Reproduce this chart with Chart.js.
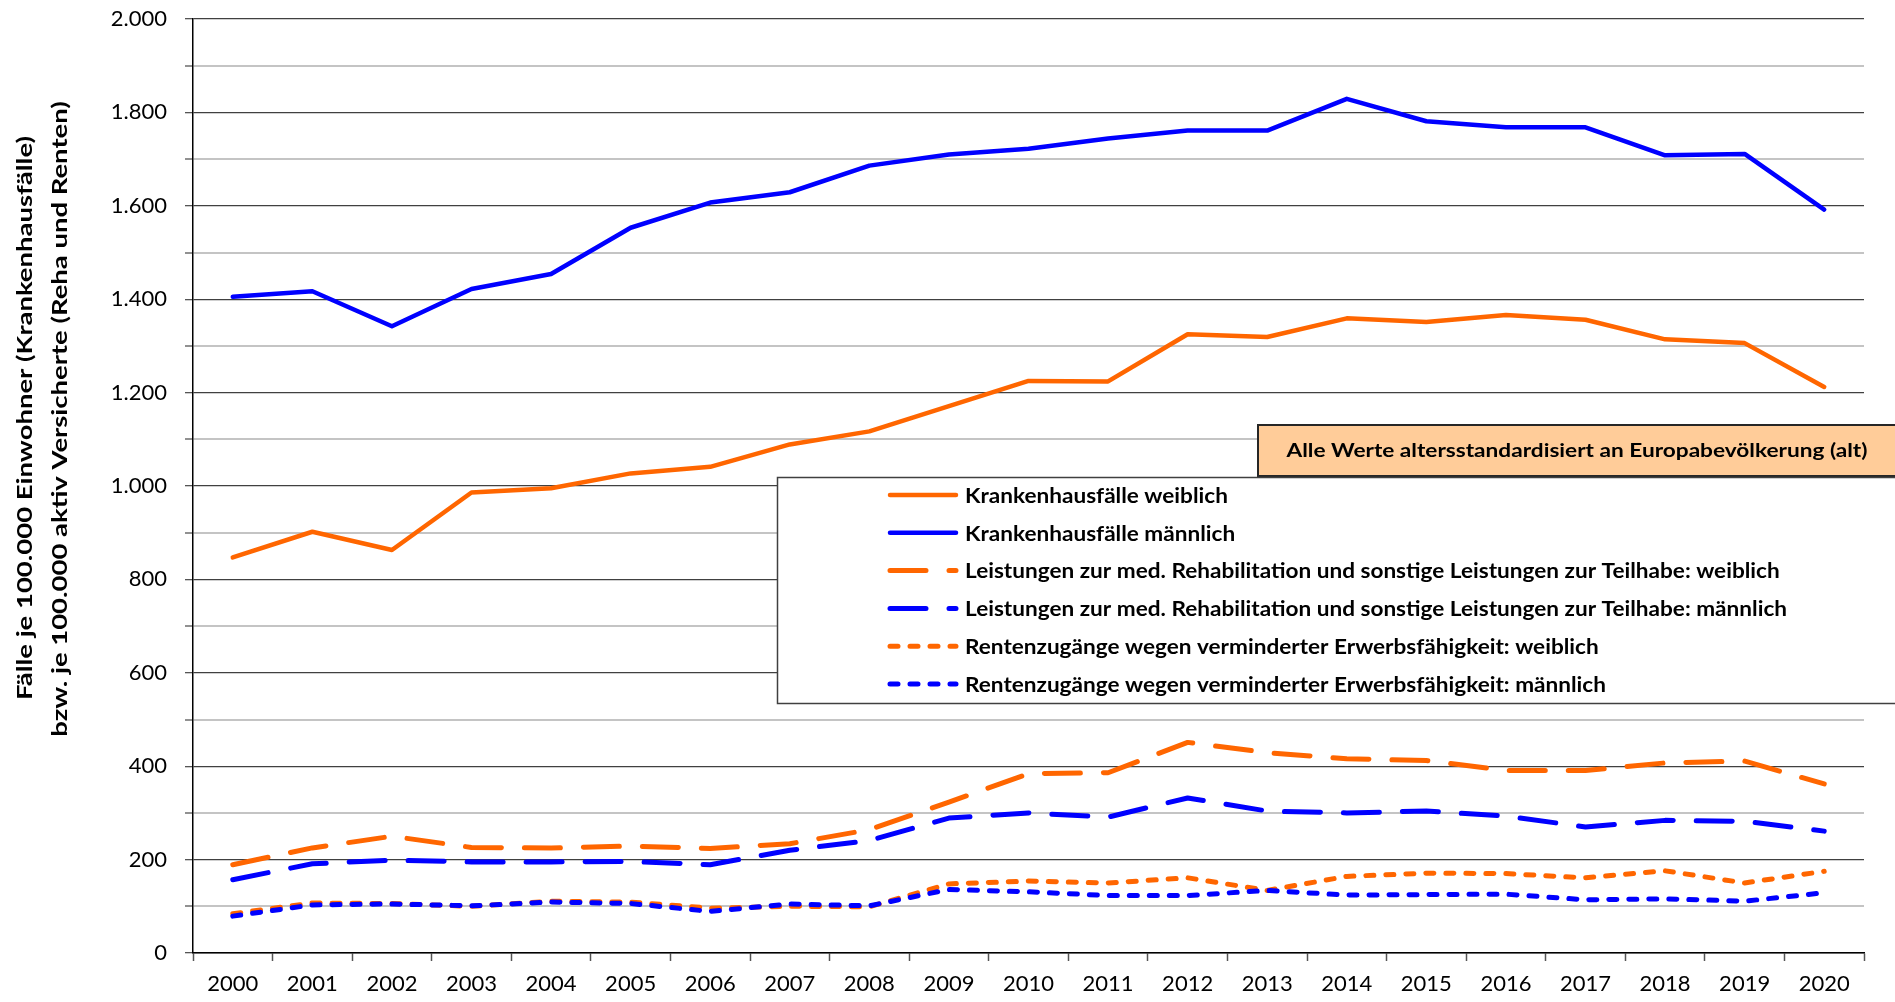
<!DOCTYPE html>
<html lang="de">
<head>
<meta charset="utf-8">
<title>Krankenhausfälle, Reha und Renten</title>
<script src="https://cdn.jsdelivr.net/npm/chart.js@4.4.1/dist/chart.umd.min.js"></script>
<style>
  html, body { margin: 0; padding: 0; background: #fff; }
  #chart { display: block; }
</style>
</head>
<body>
<canvas id="chart" width="1895" height="1002"></canvas>
<script>
/* ── Data ─────────────────────────────────────────────── */
const years = ['2000', '2001', '2002', '2003', '2004', '2005', '2006', '2007', '2008', '2009', '2010',
               '2011', '2012', '2013', '2014', '2015', '2016', '2017', '2018', '2019', '2020'];

const khWeiblich    = [847, 902, 863, 986, 995, 1027, 1041, 1089, 1117, 1171, 1225, 1224, 1325, 1319, 1359, 1351, 1366, 1356, 1314, 1306, 1212];
const khMaennlich   = [1405, 1417, 1342, 1422, 1454, 1553, 1607, 1629, 1686, 1710, 1722, 1744, 1761, 1761, 1829, 1781, 1768, 1768, 1708, 1711, 1592];
const rehaWeiblich  = [189, 225, 250, 226, 225, 229, 224, 234, 264, 323, 384, 386, 451, 429, 416, 412, 391, 391, 407, 411, 362];
const rehaMaennlich = [157, 191, 199, 195, 195, 196, 189, 220, 241, 289, 300, 291, 332, 304, 300, 304, 293, 270, 284, 282, 261];
const renteWeiblich = [84, 107, 106, 100, 111, 109, 96, 100, 99, 148, 154, 150, 161, 134, 164, 171, 170, 161, 176, 150, 175];
const renteMaennlich = [79, 103, 105, 101, 109, 106, 89, 105, 101, 136, 131, 123, 123, 134, 124, 125, 126, 114, 116, 111, 129];

const seriesLabels = [
  'Krankenhausfälle weiblich',
  'Krankenhausfälle männlich',
  'Leistungen zur med. Rehabilitation und sonstige Leistungen zur Teilhabe: weiblich',
  'Leistungen zur med. Rehabilitation und sonstige Leistungen zur Teilhabe: männlich',
  'Rentenzugänge wegen verminderter Erwerbsfähigkeit: weiblich',
  'Rentenzugänge wegen verminderter Erwerbsfähigkeit: männlich'
];

const yMin = 0, yMax = 2000, yStep = 100, yLabelStep = 200;
const yTitleLines = ['Fälle je 100.000 Einwohner (Krankenhausfälle)', 'bzw. je 100.000 aktiv Versicherte (Reha und Renten)'];
const noteText = 'Alle Werte altersstandardisiert an Europabevölkerung (alt)';

/* ── Styles ───────────────────────────────────────────── */
const ORANGE = '#FF6600';
const BLUE   = '#0000FF';
const LONG_DASH = [36, 23];
const DOT       = [8, 12];
const FONT      = 'Lato';

const fmtDE = v => String(v).replace(/\B(?=(\d{3})+(?!\d))/g, '.');

function lineSet(label, data, color, dash) {
  return {
    label, data,
    borderColor: color,
    backgroundColor: color,
    borderWidth: dash ? 5 : 4.5,
    borderDash: dash || [],
    borderCapStyle: 'round',
    borderJoinStyle: 'round',
    pointRadius: 0,
    pointHoverRadius: 0,
    tension: 0,
    fill: false
  };
}

const datasets = [
  lineSet(seriesLabels[0], khWeiblich,    ORANGE, null),
  lineSet(seriesLabels[1], khMaennlich,   BLUE,   null),
  lineSet(seriesLabels[2], rehaWeiblich,  ORANGE, LONG_DASH),
  lineSet(seriesLabels[3], rehaMaennlich, BLUE,   LONG_DASH),
  lineSet(seriesLabels[4], renteWeiblich, ORANGE, DOT),
  lineSet(seriesLabels[5], renteMaennlich, BLUE,  DOT)
];
// later series painted on top, like the original
datasets.forEach((d, i) => { d.order = datasets.length - i; });

/* ── Axis title, note box and legend box ──────────────── */
function stretchedText(ctx, text, sx) {
  ctx.save();
  ctx.scale(sx, 1);
  ctx.fillText(text, 0, 0);
  ctx.restore();
}

const overlayPlugin = {
  id: 'overlay',
  afterDraw(chart) {
    const ctx = chart.ctx;
    ctx.save();

    // y axis title (two rotated lines)
    ctx.fillStyle = '#000';
    ctx.font = `bold 21px ${FONT}`;
    ctx.textAlign = 'center';
    ctx.textBaseline = 'alphabetic';
    const tSx = 564 / ctx.measureText(yTitleLines[0]).width;
    [[32, 418], [66.5, 419]].forEach(([x, y], i) => {
      ctx.save();
      ctx.translate(x, y);
      ctx.rotate(-Math.PI / 2);
      stretchedText(ctx, yTitleLines[i], tSx);
      ctx.restore();
    });

    // note box
    ctx.fillStyle = '#FFCC99';
    ctx.fillRect(1257, 424, 700, 52);
    ctx.strokeStyle = '#262626';
    ctx.lineWidth = 2;
    ctx.strokeRect(1258, 425, 700, 51);
    ctx.fillStyle = '#000';
    ctx.font = `bold 19px ${FONT}`;
    ctx.textAlign = 'center';
    ctx.textBaseline = 'middle';
    const nSx = 581 / ctx.measureText(noteText).width;
    ctx.save();
    ctx.translate(1577, 451);
    stretchedText(ctx, noteText, nSx);
    ctx.restore();

    // legend box
    ctx.fillStyle = '#fff';
    ctx.fillRect(777, 477, 1200, 227);
    ctx.strokeStyle = '#404040';
    ctx.lineWidth = 1.5;
    ctx.strokeRect(777.5, 477.5, 1200, 226);

    ctx.font = `bold 21px ${FONT}`;
    ctx.textAlign = 'left';
    ctx.textBaseline = 'middle';
    const lSx = 822 / ctx.measureText(seriesLabels[3]).width;
    chart.data.datasets.forEach((ds, i) => {
      const y = 495 + i * 37.8;
      ctx.save();
      ctx.strokeStyle = ds.borderColor;
      ctx.lineWidth = ds.borderWidth;
      ctx.lineCap = 'round';
      ctx.setLineDash(ds.borderDash);
      ctx.beginPath();
      ctx.moveTo(890, y);
      ctx.lineTo(956, y);
      ctx.stroke();
      ctx.restore();
      ctx.fillStyle = '#000';
      ctx.save();
      ctx.translate(965, y + 1);
      stretchedText(ctx, ds.label, lSx);
      ctx.restore();
    });

    ctx.restore();
  }
};

/* ── Chart ────────────────────────────────────────────── */
Chart.defaults.font.family = FONT;
Chart.defaults.color = '#000';

new Chart(document.getElementById('chart'), {
  type: 'line',
  data: { labels: years, datasets },
  plugins: [overlayPlugin],
  options: {
    responsive: false,
    animation: false,
    devicePixelRatio: 1,
    layout: { padding: { left: 0, right: 31, top: 19, bottom: 0 } },
    plugins: {
      legend: { display: false },
      tooltip: { enabled: false },
      title: { display: false }
    },
    scales: {
      x: {
        type: 'category',
        offset: true,
        afterFit: s => { s.height = 49; s.paddingLeft = 0; s.paddingRight = 0; },
        grid: {
          offset: true,
          drawOnChartArea: false,
          drawTicks: true,
          tickLength: 8,
          tickColor: '#555',
          tickWidth: 1.5
        },
        border: { display: true, color: '#000', width: 1.5 },
        ticks: {
          autoSkip: false,
          maxRotation: 0,
          padding: 10,
          color: '#000',
          font: { size: 22, family: FONT }
        }
      },
      y: {
        min: yMin,
        max: yMax,
        afterFit: s => { s.width = 193; s.paddingTop = 0; s.paddingBottom = 0; },
        grid: {
          color: c => (c.tick && c.tick.value % yLabelStep === 0) ? '#404040' : '#c4c4c4',
          lineWidth: c => (c.tick && c.tick.value % yLabelStep === 0) ? 1.3 : 2,
          tickLength: 8,
          tickColor: '#555',
          tickWidth: 1.3
        },
        border: { display: true, color: '#000', width: 1.5 },
        ticks: {
          stepSize: yStep,
          autoSkip: false,
          padding: 18,
          color: '#000',
          font: { size: 22, family: FONT },
          callback: v => (v % yLabelStep === 0 ? fmtDE(v) : '')
        }
      }
    }
  }
});
</script>
</body>
</html>
